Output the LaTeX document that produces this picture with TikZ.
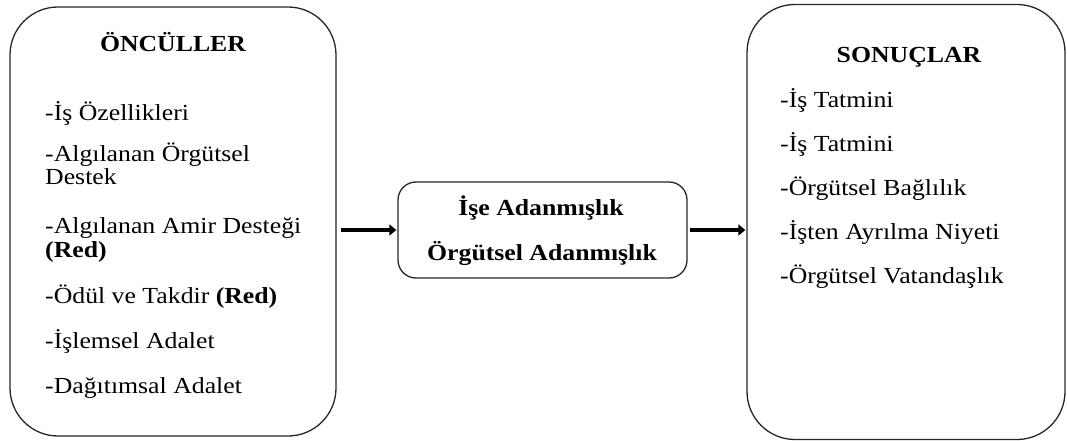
\documentclass[tikz,border=0pt]{standalone}
\usepackage{fontspec}
\setmainfont[FakeStretch=1.12]{Liberation Serif}
\usetikzlibrary{arrows.meta}
\begin{document}
\begin{tikzpicture}[x=1pt,y=-1pt,
  panel/.style={draw=black!85, line width=1.3pt, rounded corners=#1},
  label/.style={inner sep=0pt, font=\fontsize{23}{25}\selectfont},
  item/.style={label, anchor=base west},
  head/.style={label, anchor=base, font=\fontsize{23}{25}\selectfont\bfseries},
  flow/.style={line width=4.5pt, -{Triangle[length=7pt,width=11pt]}}
]
\useasboundingbox (0,0) rectangle (1067,441);

% three panels
\node[panel=48pt, minimum width=326pt, minimum height=429pt] (ante) at (173,221.5) {};
\node[panel=18pt, minimum width=289pt, minimum height=96pt] (med) at (542.5,230) {};
\node[panel=48pt, minimum width=318pt, minimum height=435pt] (cons) at (906,222) {};

% antecedents
\node[head] (anteh) at (173,52) {ÖNCÜLLER};
\node[item] (a1) at (45,121) {-İş Özellikleri};
\node[item] (a2) at (45,161) {-Algılanan Örgütsel};
\node[item] (a2b) at (45,184) {Destek};
\node[item] (a3) at (45,233) {-Algılanan Amir Desteği};
\node[item] (a3b) at (45,257) {\textbf{(Red)}};
\node[item] (a4) at (45,303) {-Ödül ve Takdir \textbf{(Red)}};
\node[item] (a5) at (45,348) {-İşlemsel Adalet};
\node[item] (a6) at (45,393) {-Dağıtımsal Adalet};

% mediators
\node[head] (m1) at (541,215) {İşe Adanmışlık};
\node[head] (m2) at (542,260) {Örgütsel Adanmışlık};

% outcomes
\node[head] (consh) at (909,63) {SONUÇLAR};
\node[item] (c1) at (780,107) {-İş Tatmini};
\node[item] (c2) at (780,151) {-İş Tatmini};
\node[item] (c3) at (780,195) {-Örgütsel Bağlılık};
\node[item] (c4) at (780,239) {-İşten Ayrılma Niyeti};
\node[item] (c5) at (780,283) {-Örgütsel Vatandaşlık};

% connectors
\draw[flow, shorten <=4pt, shorten >=1pt] (med.west -| ante.east) -- (med.west);
\draw[flow, shorten <=2pt, shorten >=1pt] (med.east) -- (med.east -| cons.west);
\end{tikzpicture}
\end{document}
